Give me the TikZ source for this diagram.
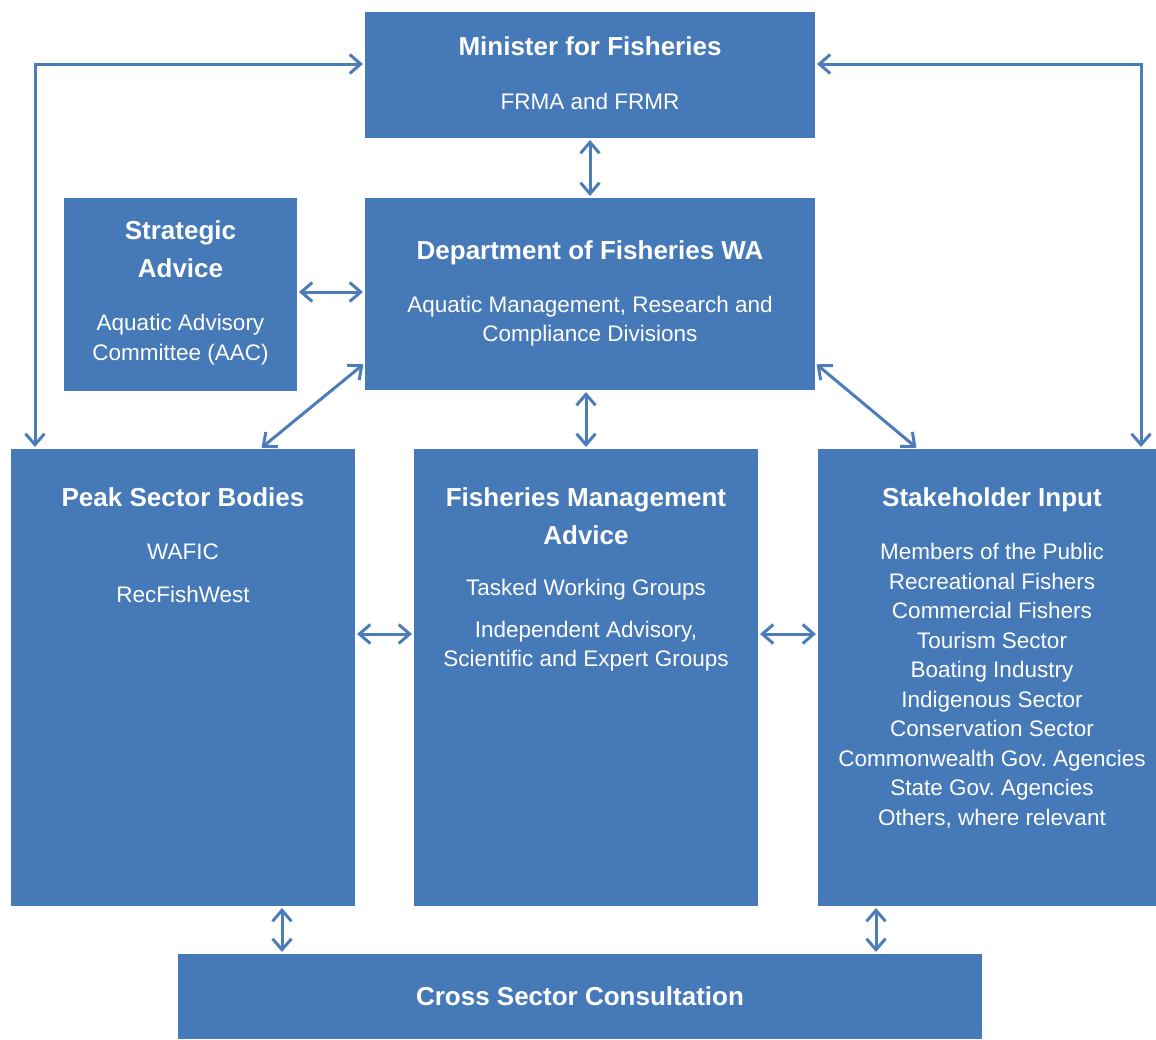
\documentclass[tikz,border=0pt]{standalone}
\usepackage{fontspec}
\setmainfont{Liberation Sans}
\usetikzlibrary{arrows.meta}
\definecolor{boxblue}{RGB}{70,121,184}
\definecolor{lineblue}{RGB}{76,125,185}
\frenchspacing
\begin{document}
\begin{tikzpicture}[x=1pt,y=-1pt,
  box/.style={fill=boxblue,draw=none,inner sep=0pt,outer sep=0pt},
  ttl/.style={text=white,align=center,font=\fontsize{26}{38}\selectfont\bfseries,inner sep=0pt},
  txt/.style={text=white,align=center,font=\fontsize{22.5}{29.5}\selectfont,inner sep=0pt},
  dbl/.style={draw=lineblue,line width=3pt,{Straight Barb[length=11pt,width=19pt]}-{Straight Barb[length=11pt,width=19pt]},shorten <=2pt,shorten >=2pt}]
\useasboundingbox (0,0) rectangle (1156,1039);
% boxes
\node[box,minimum width=450pt,minimum height=126pt] (min) at (590,75) {};
\node[box,minimum width=450pt,minimum height=192pt] (dept) at (590,294) {};
\node[box,minimum width=233pt,minimum height=193pt] (strat) at (180.5,294.5) {};
\node[box,minimum width=344pt,minimum height=457pt] (peak) at (183,677.5) {};
\node[box,minimum width=344pt,minimum height=457pt] (fma) at (586,677.5) {};
\node[box,minimum width=338pt,minimum height=457pt] (stake) at (987,677.5) {};
\node[box,minimum width=804pt,minimum height=85pt] (cross) at (580,996.5) {};
% texts
\node[ttl] (minT) at (590,46) {Minister for Fisheries};
\node[txt] (minS) at (590,101) {FRMA and FRMR};
\node[ttl] (deptT) at (590,253) {Department of Fisheries WA};
\node[txt] (deptS) at (590,321) {Aquatic Management, Research and\\Compliance Divisions};
\node[ttl] (stratT) at (180.5,249.5) {Strategic\\Advice};
\node[txt] (stratS) at (180.5,339.5) {Aquatic Advisory\\Committee (AAC)};
\node[ttl] (peakT) at (183,497) {Peak Sector Bodies};
\node[txt] (peakA) at (183,552) {WAFIC};
\node[txt] (peakB) at (183,594) {RecFishWest};
\node[ttl] (fmaT) at (586,516) {Fisheries Management\\Advice};
\node[txt] (fmaA) at (586,590) {Tasked Working Groups};
\node[txt] (fmaB) at (586,646) {Independent Advisory,\\Scientific and Expert Groups};
\node[ttl] (stakeT) at (992,500) {Stakeholder Input};
\node[txt] (stakeL) at (992,686) {Members of the Public\\Recreational Fishers\\Commercial Fishers\\Tourism Sector\\Boating Industry\\Indigenous Sector\\Conservation Sector\\Commonwealth Gov. Agencies\\State Gov. Agencies\\Others, where relevant};
\node[ttl] (crossT) at (580,996) {Cross Sector Consultation};
% connectors
\draw[dbl] (min.south) -- (dept.north);
\draw[dbl] ([yshift=2.5pt]strat.east) -- ([yshift=2.5pt]strat.east -| dept.west);
\draw[dbl] ([yshift=27pt]dept.south west) -- ([xshift=249pt]peak.north west);
\draw[dbl] ([xshift=-4pt]dept.south) -- ([xshift=-4pt]dept.south |- fma.north);
\draw[dbl] ([yshift=27pt]dept.south east) -- ([xshift=100pt]stake.north west);
\draw[dbl] ([yshift=43.5pt]peak.east) -- ([yshift=43.5pt]fma.west);
\draw[dbl] ([yshift=43.5pt]fma.east) -- ([yshift=43.5pt]stake.west);
\draw[dbl] ([xshift=271pt]peak.south west) -- ([xshift=271pt]peak.south west |- cross.north);
\draw[dbl] ([xshift=58pt]stake.south west) -- ([xshift=58pt]stake.south west |- cross.north);
\draw[dbl] ([yshift=-52pt]min.north west) -| ([xshift=24pt]peak.north west);
\draw[dbl] ([yshift=-52pt]min.north east) -| ([xshift=323pt]stake.north west);
\end{tikzpicture}
\end{document}
